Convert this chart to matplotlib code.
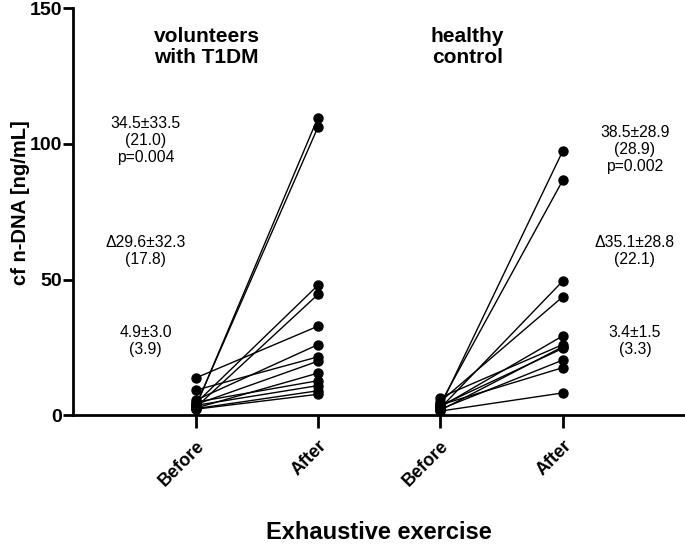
"""Paired before/after cf n-DNA plot for T1DM volunteers and healthy controls."""

import matplotlib

matplotlib.use("Agg")

import matplotlib.pyplot as plt  # noqa: E402

plt.rcParams["font.family"] = ["Liberation Sans", "DejaVu Sans"]

# values (ng/mL), paired by subject
t1dm_before = [3.0, 3.3, 4.3, 2.8, 13.7, 5.5, 9.2, 3.9, 2.6, 4.8, 3.6, 2.4, 2.2]
t1dm_after = [109.7, 106.2, 47.9, 44.5, 32.8, 26.0, 21.5, 19.9, 15.5, 12.7, 10.9, 9.0, 7.7]

ctrl_before = [3.3, 4.2, 2.6, 5.0, 3.0, 6.5, 1.8, 3.5, 2.2, 3.8, 1.5]
ctrl_after = [97.3, 86.5, 49.4, 43.6, 29.2, 26.0, 25.2, 24.6, 20.3, 17.5, 8.2]

tick_labels = ["Before", "After", "Before", "After"]
group_titles = ["volunteers\nwith T1DM", "healthy\ncontrol"]

t1dm_notes = ["34.5\u00b133.5\n(21.0)\np=0.004", "\u039429.6\u00b132.3\n(17.8)", "4.9\u00b13.0\n(3.9)"]
ctrl_notes = ["38.5\u00b128.9\n(28.9)\np=0.002", "\u039435.1\u00b128.8\n(22.1)", "3.4\u00b11.5\n(3.3)"]

fig = plt.figure(figsize=(6.85, 5.47), dpi=100)
ax = fig.add_axes([0.107, 0.241, 0.893, 0.744])

for (x0, x1), before, after in [((1, 2), t1dm_before, t1dm_after),
                                ((3, 4), ctrl_before, ctrl_after)]:
    for b, a in zip(before, after):
        ax.plot([x0, x1], [b, a], color="black", lw=1.0, marker="o",
                ms=6.5, mfc="black", mec="black", zorder=3, clip_on=False)

ax.set_xlim(0, 5)
ax.set_ylim(0, 150)
ax.set_yticks([0, 50, 100, 150])
ax.set_xticks([1, 2, 3, 4])
ax.set_xticklabels(tick_labels, rotation=45, ha="right", rotation_mode="anchor",
                   fontsize=13, fontweight="bold")
for lab in ax.get_yticklabels():
    lab.set_fontsize(14)
    lab.set_fontweight("bold")

for side in ("top", "right"):
    ax.spines[side].set_visible(False)
for side in ("left", "bottom"):
    ax.spines[side].set_linewidth(2)
ax.tick_params(axis="y", width=2, length=7, pad=1)
ax.tick_params(axis="x", width=2, length=9, pad=7)

ax.set_ylabel("cf n-DNA [ng/mL]", fontsize=14.5, fontweight="bold", va="center")
ax.yaxis.set_label_coords(-0.087, 0.523)
ax.set_xlabel("Exhaustive exercise", fontsize=17, fontweight="bold", va="center")
ax.xaxis.set_label_coords(0.5, -0.288)

ax.text(1.09, 135.8, group_titles[0], ha="center", va="center", fontsize=15,
        fontweight="bold", linespacing=1.15)
ax.text(3.22, 135.8, group_titles[1], ha="center", va="center", fontsize=15,
        fontweight="bold", linespacing=1.15)

note_y = [[101.3, 60.4, 27.3], [98.0, 60.4, 27.3]]
for x, notes, ys in [(0.59, t1dm_notes, note_y[0]), (4.59, ctrl_notes, note_y[1])]:
    for txt, y in zip(notes, ys):
        ax.text(x, y, txt, ha="center", va="center", fontsize=11.3, linespacing=1.15)

fig.savefig("out.png", dpi=100)
